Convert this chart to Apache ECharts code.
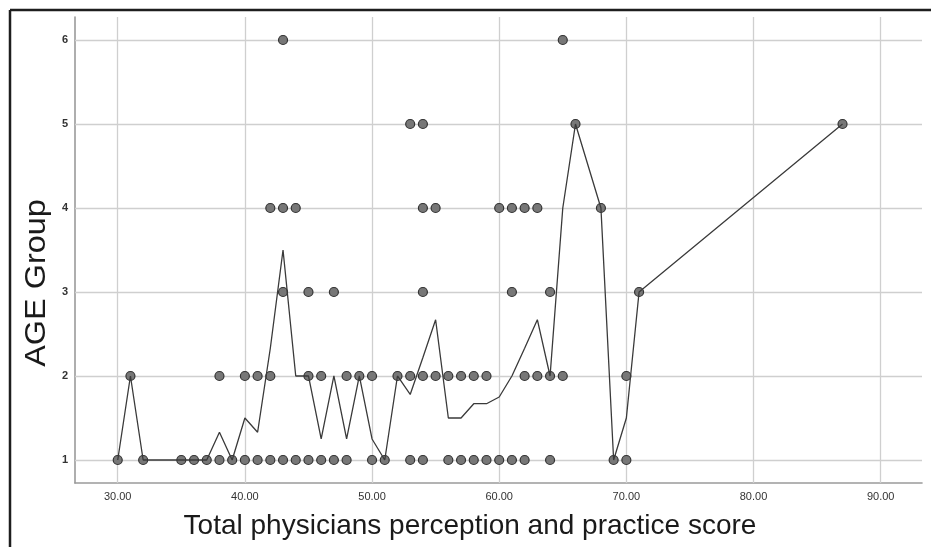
<!DOCTYPE html>
<html>
<head>
<meta charset="utf-8">
<script src="https://cdn.jsdelivr.net/npm/echarts@6/dist/echarts.min.js"></script>
<style>
html,body{margin:0;padding:0;background:#fff;}
#chart{width:931px;height:547px;}
</style>
</head>
<body>
<div id="chart"></div>
<script>
// Tick labels
const xTicks = [30, 40, 50, 60, 70, 80, 90];
const yTicks = [1, 2, 3, 4, 5, 6];

// Scatter points: scores observed for each AGE Group value
const age1Scores = [30, 32, 35, 36, 37, 38, 39, 40, 41, 42, 43, 44, 45, 46, 47, 48, 50, 51, 53, 54, 56, 57, 58, 59, 60, 61, 62, 64, 69, 70];
const age2Scores = [31, 38, 40, 41, 42, 45, 46, 48, 49, 50, 52, 53, 54, 55, 56, 57, 58, 59, 62, 63, 64, 65, 70];
const age3Scores = [43, 45, 47, 54, 61, 64, 71];
const age4Scores = [42, 43, 44, 54, 55, 60, 61, 62, 63, 68];
const age5Scores = [53, 54, 66, 87];
const age6Scores = [43, 65];

// Mean AGE Group line (per score)
const lineScores = [30, 31, 32, 35, 36, 37, 38, 39, 40, 41, 42, 43, 44, 45, 46, 47, 48, 49, 50, 51, 52, 53, 54, 55, 56, 57, 58, 59, 60, 61, 62, 63, 64, 65, 66, 68, 69, 70, 71, 87];
const lineMeans  = [1, 2, 1, 1, 1, 1, 1.33, 1, 1.5, 1.33, 2.33, 3.5, 2, 2, 1.25, 2, 1.25, 2, 1.25, 1, 2, 1.78, 2.22, 2.67, 1.5, 1.5, 1.67, 1.67, 1.75, 2, 2.33, 2.67, 2, 4, 5, 4, 1, 1.5, 3, 5];

const groups = [age1Scores, age2Scores, age3Scores, age4Scores, age5Scores, age6Scores];
const scatterData = [];
groups.forEach((arr, i) => arr.forEach(s => scatterData.push([s, i + 1])));
const lineData = lineScores.map((s, i) => [s, lineMeans[i]]);

const gridColor = '#cfcfcf';
const chart = echarts.init(document.getElementById('chart'), null, {renderer: 'canvas'});
chart.setOption({
  animation: false,
  backgroundColor: '#fff',
  grid: {left: 75, top: 17, right: 9, bottom: 64, containLabel: false},
  xAxis: {
    type: 'value', min: 26.64, max: 93.25,
    axisLine: {show: true, lineStyle: {color: '#9a9a9a', width: 1.6}},
    axisTick: {show: false},
    splitLine: {show: false},
    axisLabel: {
      margin: 8, color: '#333', fontSize: 11, fontFamily: 'Liberation Sans',
      showMinLabel: true, showMaxLabel: true,
      formatter: v => xTicks.indexOf(Math.round(v)) >= 0 && Math.abs(v - Math.round(v)) < 1e-6 ? v.toFixed(2) : ''
    }
  },
  yAxis: {
    type: 'value', min: 0.726, max: 6.274,
    axisLine: {show: true, lineStyle: {color: '#9a9a9a', width: 1.6}},
    axisTick: {show: false},
    splitLine: {show: false},
    axisLabel: {
      margin: 7, color: '#333', fontSize: 11, fontWeight: 'bold', fontFamily: 'Liberation Sans',
      formatter: v => yTicks.indexOf(Math.round(v)) >= 0 && Math.abs(v - Math.round(v)) < 1e-6 ? String(Math.round(v)) : ''
    }
  },
  series: [
    {
      type: 'line', data: [], z: 1, silent: true,
      markLine: {
        z: 1, silent: true, symbol: ['none', 'none'], label: {show: false},
        lineStyle: {color: gridColor, width: 1.3, type: 'solid'},
        emphasis: {disabled: true},
        data: xTicks.map(v => ({xAxis: v})).concat(yTicks.map(v => ({yAxis: v})))
      }
    },
    {
      type: 'scatter', data: scatterData, z: 10, symbolSize: 9,
      itemStyle: {color: '#777', borderColor: '#333', borderWidth: 1.2, opacity: 1}
    },
    {
      type: 'line', data: lineData, z: 11, showSymbol: false, symbol: 'none',
      lineStyle: {color: '#3a3a3a', width: 1.3}
    }
  ],
  graphic: [
    {type: 'line', shape: {x1: 10, y1: 10, x2: 931, y2: 10}, style: {stroke: '#1e1e1e', lineWidth: 2.5}, z: 10},
    {type: 'line', shape: {x1: 10, y1: 10, x2: 10, y2: 547}, style: {stroke: '#1e1e1e', lineWidth: 2.5}, z: 10},
    {type: 'text', x: 37, y: 283, rotation: Math.PI / 2, scaleX: 1.08,
     style: {text: 'AGE Group', fontSize: 30, fontFamily: 'Liberation Sans', fill: '#1a1a1a', textAlign: 'center', textVerticalAlign: 'middle'}},
    {type: 'text', x: 470, y: 526,
     style: {text: 'Total physicians perception and practice score', fontSize: 28, fontFamily: 'Liberation Sans', fill: '#1a1a1a', textAlign: 'center', textVerticalAlign: 'middle'}}
  ]
});
</script>
</body>
</html>
